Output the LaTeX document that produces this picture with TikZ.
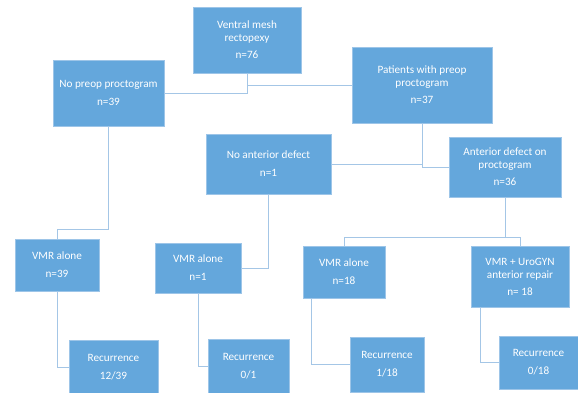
\documentclass[tikz,border=0pt]{standalone}
\usepackage{fontspec}
\setmainfont{Carlito}
\usetikzlibrary{positioning}

\definecolor{boxblue}{HTML}{64A7DC}
\definecolor{edgeblue}{HTML}{9DC5E8}
\definecolor{lineblue}{HTML}{A4C6E6}

\begin{document}
\begin{tikzpicture}[x=1pt,y=-1pt,
    flowbox/.style={draw=edgeblue, fill=boxblue, text=white, align=center,
      inner sep=0pt, font=\fontsize{11.2}{13}\selectfont},
    link/.style={draw=lineblue, line width=0.9pt}]
  \useasboundingbox (0,0) rectangle (578,393);
  % top level
  \node[flowbox, minimum width=108pt, minimum height=66pt] (ventral) at (247,40) {Ventral mesh\\rectopexy\\[4pt]n=76};
  \node[flowbox, minimum width=111pt, minimum height=66pt] (nopreop) at (108.5,93) {No preop proctogram\\[5pt]n=39};
  \node[flowbox, minimum width=140pt, minimum height=76pt] (patients) at (422,85) {Patients with preop\\proctogram\\[4pt]n=37};
  % proctogram findings
  \node[flowbox, minimum width=125pt, minimum height=60pt] (noant) at (268.5,164) {No anterior defect\\[5pt]n=1};
  \node[flowbox, minimum width=112pt, minimum height=60pt] (antdef) at (505,167) {Anterior defect on\\proctogram\\[4pt]n=36};
  % operations
  \node[flowbox, minimum width=84pt, minimum height=52pt] (vmr39) at (57,265) {VMR alone\\[5pt]n=39};
  \node[flowbox, minimum width=86pt, minimum height=50pt] (vmr1) at (198,268) {VMR alone\\[5pt]n=1};
  \node[flowbox, minimum width=82pt, minimum height=52pt] (vmr18) at (344,272) {VMR alone\\[5pt]n=18};
  \node[flowbox, minimum width=98pt, minimum height=61pt] (vmrgyn) at (520,276.5) {VMR + UroGYN\\anterior repair\\[4pt]n= 18};
  % outcome
  \node[flowbox, minimum width=89pt, minimum height=54pt] (rec39) at (113.5,367) {Recurrence\\[5pt]12/39};
  \node[flowbox, minimum width=81pt, minimum height=54pt] (rec1) at (248.5,366) {Recurrence\\[5pt]0/1};
  \node[flowbox, minimum width=74pt, minimum height=55pt] (rec18) at (387,364.5) {Recurrence\\[5pt]1/18};
  \node[flowbox, minimum width=79pt, minimum height=53pt] (rec018) at (538.5,362.5) {Recurrence\\[5pt]0/18};

  \coordinate (split39) at (57,229);
  \coordinate (splitA) at (505,237);
  \coordinate (vmr18foot) at ([xshift=9pt]vmr18.south west);
  \coordinate (vmrgynfoot) at ([xshift=10pt]vmrgyn.south west);

  \draw[link] (ventral.south) |- (nopreop.east);
  \draw[link] (ventral.south) |- (patients.west);
  \draw[link] (nopreop.south) |- (split39) -- (vmr39.north);
  \draw[link] (patients.south) |- (noant.east);
  \draw[link] (patients.south) |- (antdef.west);
  \draw[link] (noant.south) |- (vmr1.east);
  \draw[link] (antdef.south) -- (splitA) -| (vmr18.north);
  \draw[link] (splitA) -| (vmrgyn.north);
  \draw[link] (vmr39.south) |- (rec39.west);
  \draw[link] (vmr1.south) |- (rec1.west);
  \draw[link] (vmr18foot) |- (rec18.west);
  \draw[link] (vmrgynfoot) |- (rec018.west);
\end{tikzpicture}
\end{document}
